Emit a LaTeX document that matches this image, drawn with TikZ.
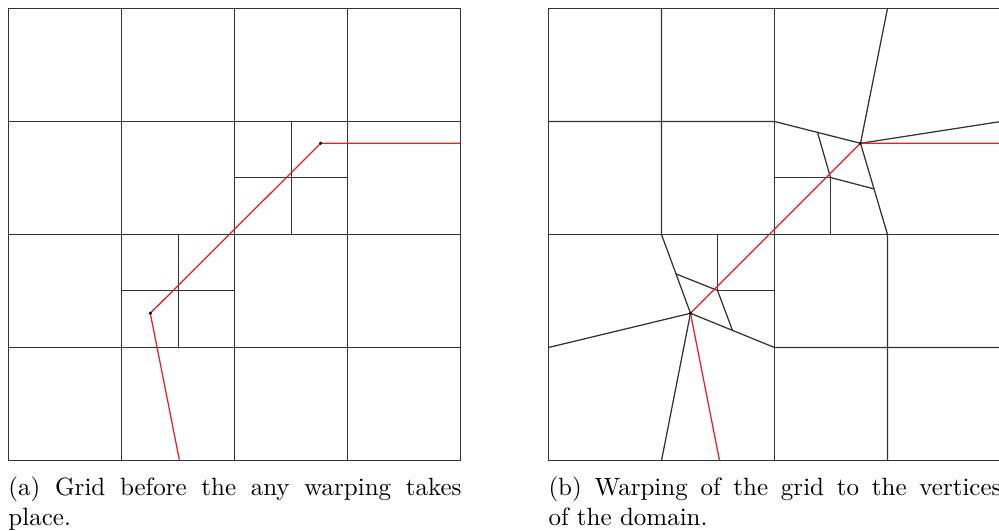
\documentclass[tikz,border=0pt]{standalone}
\usetikzlibrary{calc}
\definecolor{warpred}{RGB}{232,30,40}
\begin{document}
\begin{tikzpicture}[x=0.4pt,y=-0.4pt,
  gridline/.style={line width=0.5pt,draw=black!80,line join=miter},
  redline/.style={line width=0.5pt,draw=warpred},
  vdot/.style={fill=black},
  capt/.style={anchor=north west,inner sep=0pt,text width=181.2pt,align=justify,font=\normalsize}]
\useasboundingbox (0,0) rectangle (999,531);
% ---------------- left panel ----------------
\draw[gridline] (8.5,8.5) rectangle (460.5,460.5);
\foreach \x in {121.5,234.5,347.5} \draw[gridline] (\x,8.5) -- (\x,460.5);
\foreach \y in {121.5,234.5,347.5} \draw[gridline] (8.5,\y) -- (460.5,\y);
\draw[gridline] (291.5,121.5) -- (291.5,234.5);
\draw[gridline] (234.5,177.5) -- (347.5,177.5);
\draw[gridline] (178.5,234.5) -- (178.5,347.5);
\draw[gridline] (121.5,290.5) -- (234.5,290.5);
\coordinate (pb) at (179.5,460.5);
\coordinate (p1) at (150.3,313.3);
\coordinate (p2) at (320.7,143.3);
\coordinate (pr) at (460.5,143.3);
\draw[redline] (pb) -- (p1) -- (p2) -- (pr);
\fill[vdot] (p1) circle (0.7pt);
\fill[vdot] (p2) circle (0.7pt);
% ---------------- right panel ----------------
\coordinate (q1) at (690.5,313.3);
\coordinate (q2) at (860.5,143.3);
\coordinate (qb) at (719.5,460.5);
\coordinate (qr) at (1001,143.3);
\draw[gridline] (548.5,8.5) rectangle (1001,460.5);
\draw[gridline] (661.5,8.5) -- (661.5,234.5) -- (q1) -- (661.5,460.5);
\draw[gridline] (774.5,8.5) -- (774.5,460.5);
\draw[gridline] (887.5,8.5) -- (q2) -- (887.5,234.5) -- (887.5,460.5);
\draw[gridline] (548.5,121.5) -- (774.5,121.5) -- (q2) -- (1001,121.5);
\draw[gridline] (548.5,234.5) -- (1001,234.5);
\draw[gridline] (548.5,347.5) -- (q1) -- (774.5,347.5) -- (1001,347.5);
% refined cell near q2
\coordinate (c2) at (830.5,177.5);
\draw[gridline] ($(774.5,121.5)!0.5!(q2)$) -- (c2) -- ($(q2)!0.5!(887.5,234.5)$);
\draw[gridline] (774.5,177.5) -- (c2) -- (830.5,234.5);
% refined cell near q1
\coordinate (c1) at (717.5,290.5);
\draw[gridline] ($(661.5,234.5)!0.5!(q1)$) -- (c1) -- ($(q1)!0.5!(774.5,347.5)$);
\draw[gridline] (717.5,234.5) -- (c1) -- (774.5,290.5);
\draw[redline] (qb) -- (q1) -- (q2) -- (qr);
\fill[vdot] (q1) circle (0.7pt);
\fill[vdot] (q2) circle (0.7pt);
% ---------------- captions ----------------
\node[capt] (capa) at (8,476.3) {(a) Grid before the any warping takes\linebreak place.};
\node[capt] (capb) at (548,476.3) {(b) Warping of the grid to the vertices\linebreak of the domain.};
\end{tikzpicture}
\end{document}
